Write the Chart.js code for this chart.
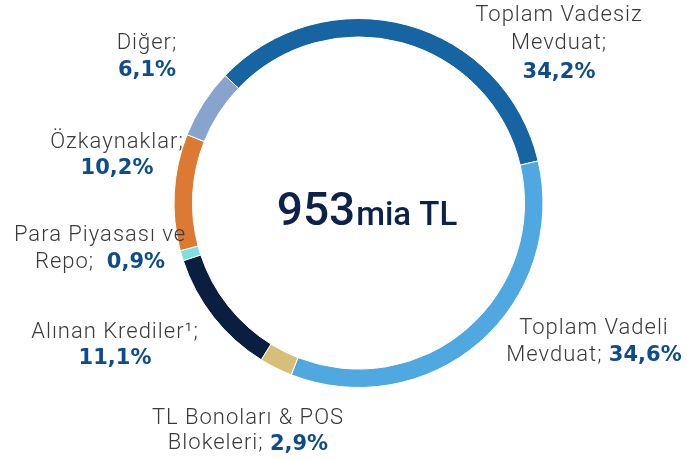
<!DOCTYPE html>
<html>
<head>
<meta charset="utf-8">
<script src="https://cdn.jsdelivr.net/npm/chart.js@4.4.0/dist/chart.umd.min.js"></script>
<style>
  html, body { margin: 0; padding: 0; background: #fff; }
  #wrap { width: 687px; height: 459px; position: relative; }
</style>
</head>
<body>
<div id="wrap"><canvas id="myChart"></canvas></div>
<script>
// funding mix, % of total
categories = ['Toplam Vadesiz Mevduat', 'Toplam Vadeli Mevduat', 'TL Bonoları & POS Blokeleri',
    'Alınan Krediler¹', 'Para Piyasası ve Repo', 'Özkaynaklar', 'Diğer'];
values = [34.2, 34.6, 2.9, 11.1, 0.9, 10.2, 6.1];
colors = ['#1764a3', '#50a8e1', '#d8bf79', '#0a1e3f', '#7fe0e0', '#dc7a33', '#88a4cc'];
// label text split into lines, percent is appended from values
nameLines = [
    ['Toplam Vadesiz', 'Mevduat;', ''],
    ['Toplam Vadeli', 'Mevduat; '],
    ['TL Bonoları & POS', 'Blokeleri; '],
    ['Alınan Krediler¹;', ''],
    ['Para Piyasası ve', 'Repo;  '],
    ['Özkaynaklar;', ''],
    ['Diğer;', '']
];
totalValue = '953';
totalUnit = 'mia TL';

// label block centre x, first line y, line height
labelPos = [
    [559, 15, 28.5], [594, 328, 27], [248, 418, 25.5], [115, 332, 26], [100, 235, 27], [117, 142, 26], [147, 43, 27]
];
var nameFont = '300 22px Roboto';
var pctFont = 'bold 21px "DejaVu Sans"';

function fmt(v) {
    return v.toFixed(1).replace('.', ',') + '%';
}

var labelsPlugin = {
    id: 'sliceLabels',
    afterDraw: function (chart) {
        var ctx = chart.ctx;
        ctx.save();
        ctx.textBaseline = 'middle';
        ctx.textAlign = 'left';
        for (var i = 0; i < values.length; i++) {
            var lines = nameLines[i];
            var x = labelPos[i][0], y = labelPos[i][1], lh = labelPos[i][2];
            for (var j = 0; j < lines.length; j++) {
                var name = lines[j];
                var last = j === lines.length - 1;
                var pct = last ? fmt(values[i]) : '';
                ctx.letterSpacing = '1px';
                ctx.font = nameFont;
                var w1 = name ? ctx.measureText(name).width : 0;
                ctx.letterSpacing = '0px';
                ctx.font = pctFont;
                var w2 = pct ? ctx.measureText(pct).width : 0;
                var sx = x - (w1 + w2) / 2;
                ctx.letterSpacing = '1px';
                ctx.font = nameFont;
                ctx.fillStyle = '#3a3a3a';
                if (name) ctx.fillText(name, sx, y + j * lh);
                if (pct) {
                    ctx.letterSpacing = '0px';
                    ctx.font = pctFont;
                    ctx.fillStyle = '#0f4c8a';
                    ctx.fillText(pct, sx + w1, y + j * lh + 1);
                }
            }
        }
        // total in the middle (sits a bit right of centre in the original)
        ctx.letterSpacing = '0px';
        var area = chart.chartArea;
        var cx = (area.left + area.right) / 2 + 8;
        var cy = (area.top + area.bottom) / 2;
        ctx.textBaseline = 'alphabetic';
        ctx.font = '500 46px Roboto';
        var wa = ctx.measureText(totalValue).width;
        ctx.font = '500 33px Roboto';
        var wb = ctx.measureText(totalUnit).width;
        var sx2 = cx - (wa + wb) / 2;
        ctx.fillStyle = '#0c2248';
        ctx.font = '500 46px Roboto';
        ctx.fillText(totalValue, sx2, cy + 22);
        ctx.font = '500 33px Roboto';
        ctx.fillText(totalUnit, sx2 + wa + 1, cy + 22);
        ctx.restore();
    }
};

var ctx = document.getElementById('myChart').getContext('2d');
var myChart = new Chart(ctx, {
    type: 'doughnut',
    data: {
        labels: categories,
        datasets: [{
            data: values,
            backgroundColor: colors,
            borderColor: '#ffffff',
            borderWidth: 1
        }]
    },
    options: {
        responsive: true,
        maintainAspectRatio: false,
        animation: false,
        rotation: -46.3,
        cutout: '90%',
        layout: {
            padding: {left: 173, right: 143, top: 18, bottom: 71}
        },
        plugins: {
            legend: {display: false},
            tooltip: {enabled: false}
        }
    },
    plugins: [labelsPlugin]
});
</script>
</body>
</html>
